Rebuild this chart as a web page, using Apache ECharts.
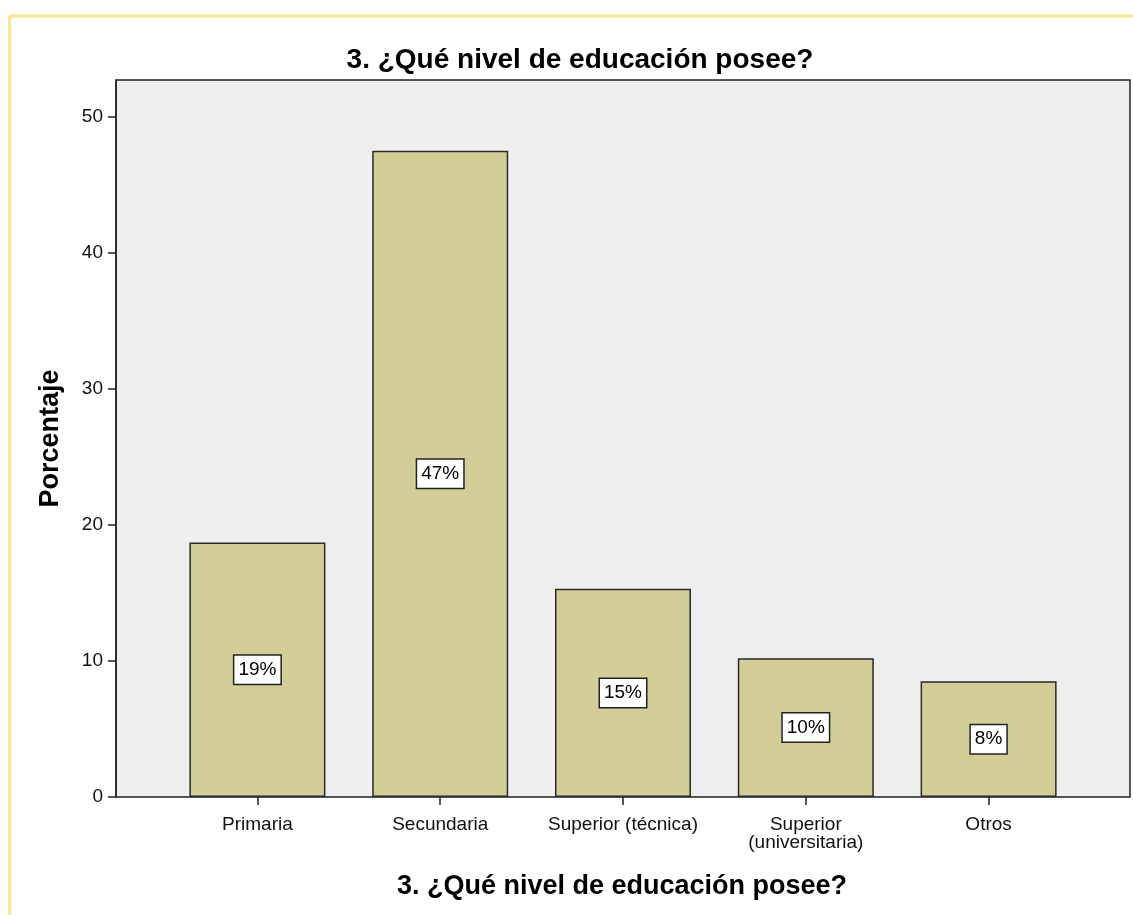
<!DOCTYPE html>
<html>
<head>
<meta charset="utf-8">
<script src="https://cdn.jsdelivr.net/npm/echarts@6/dist/echarts.min.js"></script>
<style>
html,body{margin:0;padding:0;background:#fff;}
#c{width:1133px;height:915px;}
</style>
</head>
<body>
<div id="c"></div>
<script>
const categories = ['Primaria', 'Secundaria', 'Superior (técnica)', 'Superior\n(universitaria)', 'Otros'];
const values = [18.7, 47.5, 15.3, 10.2, 8.5];
const valueLabels = ['19%', '47%', '15%', '10%', '8%'];
const yTicks = [0, 10, 20, 30, 40, 50];
const titleText = '3. ¿Qué nivel de educación posee?';
const yName = 'Porcentaje';

const FONT = '"Liberation Sans", Arial, sans-serif';
const Y_MAX = 52.7;
const TICK_MAX = 50;

const chart = echarts.init(document.getElementById('c'), null, {renderer: 'canvas'});
chart.setOption({
  animation: false,
  backgroundColor: '#ffffff',
  title: {
    text: titleText,
    left: 575, top: 41, textAlign: 'center',
    textStyle: {fontFamily: FONT, fontSize: 28, fontWeight: 'bold', color: '#000'}
  },
  graphic: [
    {type: 'line', shape: {x1: 9, y1: 16, x2: 1133, y2: 16}, style: {stroke: '#ffe68a', lineWidth: 3}},
    {type: 'line', shape: {x1: 9.5, y1: 16, x2: 9.5, y2: 915}, style: {stroke: '#ffe68a', lineWidth: 3}},
    {type: 'text', x: 622, y: 873, style: {text: titleText, font: 'bold 27px ' + FONT, fill: '#000', textAlign: 'center', textVerticalAlign: 'top'}}
  ],
  grid: [
    {left: 116, top: 80, width: 1014, height: 717, show: true, backgroundColor: '#efefef', borderColor: '#222', borderWidth: 1.5, containLabel: false},
    {left: 166, top: 80, width: 914, height: 717, containLabel: false},
    {left: 116, top: 797 - 717 * TICK_MAX / Y_MAX, width: 1014, height: 717 * TICK_MAX / Y_MAX, containLabel: false}
  ],
  xAxis: [
    {gridIndex: 0, type: 'value', min: 0, max: 1, show: false},
    {
      gridIndex: 1, type: 'category', data: categories,
      axisLine: {show: false},
      axisTick: {show: true, alignWithLabel: true, length: 8, lineStyle: {color: '#222', width: 1.5}},
      axisLabel: {fontFamily: FONT, fontSize: 19, color: '#111', margin: 19, lineHeight: 18, interval: 0}
    },
    {gridIndex: 2, type: 'value', min: 0, max: 1, show: false}
  ],
  yAxis: [
    {
      gridIndex: 0, type: 'value', min: 0, max: Y_MAX,
      name: yName, nameLocation: 'middle', nameGap: 52, nameRotate: 90,
      nameTextStyle: {fontFamily: FONT, fontSize: 27, fontWeight: 'bold', color: '#000'},
      axisLine: {show: true, lineStyle: {color: '#222', width: 1.5}},
      axisTick: {show: false}, axisLabel: {show: false}, splitLine: {show: false}
    },
    {gridIndex: 1, type: 'value', min: 0, max: Y_MAX, show: false},
    {
      gridIndex: 2, type: 'value', min: 0, max: TICK_MAX, interval: 10,
      axisLine: {show: false},
      axisTick: {show: true, length: 8, lineStyle: {color: '#222', width: 1.5}},
      axisLabel: {fontFamily: FONT, fontSize: 19, color: '#111', margin: 13,
        formatter: v => yTicks.includes(v) ? String(v) : ''},
      splitLine: {show: false}
    }
  ],
  series: [{
    type: 'bar', xAxisIndex: 1, yAxisIndex: 1,
    data: values,
    barWidth: 136,
    itemStyle: {color: '#d3ce97', borderColor: '#2a2a2a', borderWidth: 1.5},
    label: {
      show: true, position: 'inside',
      formatter: p => valueLabels[p.dataIndex],
      fontFamily: FONT, fontSize: 19, color: '#000',
      backgroundColor: '#fff', borderColor: '#222', borderWidth: 1.5,
      padding: [5, 4, 4, 4]
    }
  }]
});
</script>
</body>
</html>
